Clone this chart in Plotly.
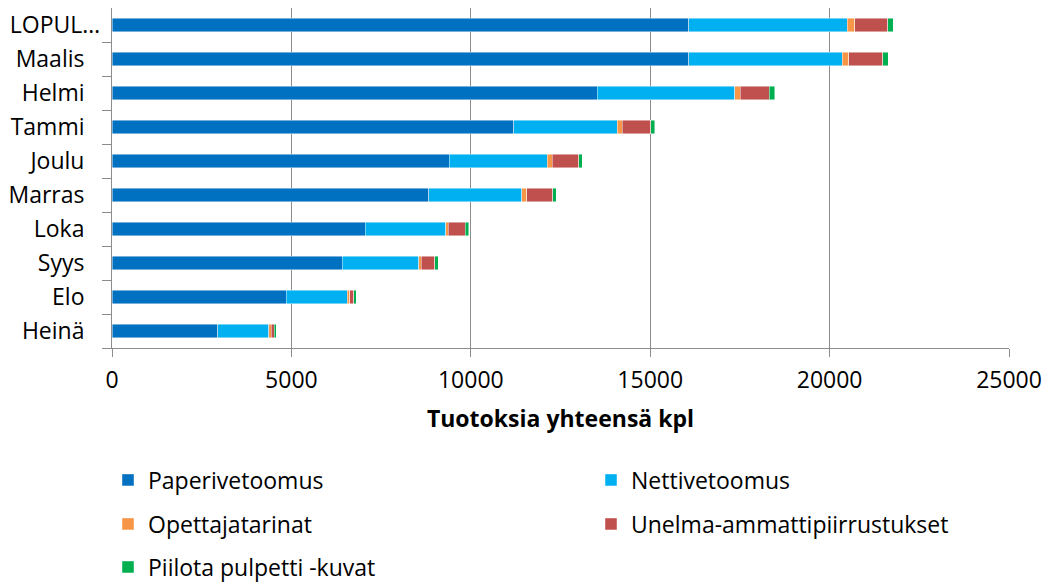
import plotly.graph_objects as go

categories = ["LOPUL…", "Maalis", "Helmi", "Tammi", "Joulu", "Marras", "Loka", "Syys", "Elo", "Heinä"]
paperi = [16070, 16070, 13525, 11200, 9400, 8825, 7060, 6420, 4850, 2950]
netti = [4420, 4285, 3835, 2885, 2735, 2600, 2240, 2135, 1710, 1425]
opettaja = [205, 185, 150, 140, 130, 132, 75, 67, 64, 64]
unelma = [925, 940, 810, 785, 750, 727, 465, 380, 112, 76]
piilota = [150, 150, 150, 112, 95, 92, 103, 84, 67, 56]
series_names = ["Paperivetoomus", "Nettivetoomus", "Opettajatarinat",
                "Unelma-ammattipiirrustukset", "Piilota pulpetti -kuvat"]
series_values = [paperi, netti, opettaja, unelma, piilota]
series_colors = ["#0070C0", "#00B0F0", "#F79646", "#C0504D", "#00B050"]
x_ticks = [0, 5000, 10000, 15000, 20000, 25000]

FONT = "Open Sans"
FS = 23
W, H = 1049, 587
ml, mr, mt, mb = 112, 40, 8, 239
pw, ph = W - ml - mr, H - mt - mb

def px_x(px):
    return (px - ml) / pw

def px_y(py):
    return (H - mb - py) / ph

# legend slots: (anchor x px, row-centre y px)
slots = [(130, 480), (613, 480), (130, 524), (613, 524), (130, 567)]
legend_ids = ["legend", "legend2", "legend3", "legend4", "legend5"]

fig = go.Figure()
for name, vals, color, lg in zip(series_names, series_values, series_colors, legend_ids):
    fig.add_trace(go.Bar(
        y=categories[::-1], x=vals[::-1], name=name, orientation="h",
        marker=dict(color=color, line=dict(color="rgba(255,255,255,0.6)", width=0.75)),
        legend=lg,
    ))

legend_layout = {}
for lg, (sx, sy) in zip(legend_ids, slots):
    legend_layout[lg] = dict(
        orientation="h", font=dict(family=FONT, size=FS, color="#000"),
        x=px_x(sx - 22), y=px_y(sy), xanchor="left", yanchor="middle",
        itemwidth=30, bgcolor="rgba(0,0,0,0)", borderwidth=0,
    )

pad = "\u00a0\u00a0\u2009"
ticktext = [c if c.endswith("…") else c + pad for c in categories]

fig.update_layout(
    width=W, height=H,
    margin=dict(l=ml, r=mr, t=mt, b=mb, autoexpand=False),
    barmode="stack", bargap=0.59,
    plot_bgcolor="white", paper_bgcolor="white",
    font=dict(family=FONT, size=FS, color="#000"),
    showlegend=True,
    **legend_layout,
    xaxis=dict(
        range=[0, 25000], tickvals=x_ticks, tickformat="d", automargin=False,
        showgrid=True, gridcolor="#8c8c8c", gridwidth=1.3,
        showline=True, linecolor="#8c8c8c", linewidth=1.3,
        ticks="outside", ticklen=8, tickcolor="#8c8c8c", tickwidth=1.3,
        ticklabelstandoff=3, zeroline=False,
        tickfont=dict(family=FONT, size=FS, color="#000"),
        title=dict(text="<b>Tuotoksia yhteensä kpl</b>",
                   font=dict(family=FONT, size=FS, color="#000"), standoff=17),
    ),
    yaxis=dict(
        categoryorder="array", categoryarray=categories[::-1], automargin=False,
        tickvals=categories, ticktext=ticktext,
        showline=True, linecolor="#8c8c8c", linewidth=1.3,
        ticks="outside", ticklen=9, tickcolor="#8c8c8c", tickwidth=1.3,
        tickson="boundaries", showgrid=False, ticklabelstandoff=6,
        tickfont=dict(family=FONT, size=FS, color="#000"),
    ),
)

fig.write_html("out.html", config={"displayModeBar": False},
               post_script="document.body.style.margin='0';document.body.style.overflow='hidden';")
